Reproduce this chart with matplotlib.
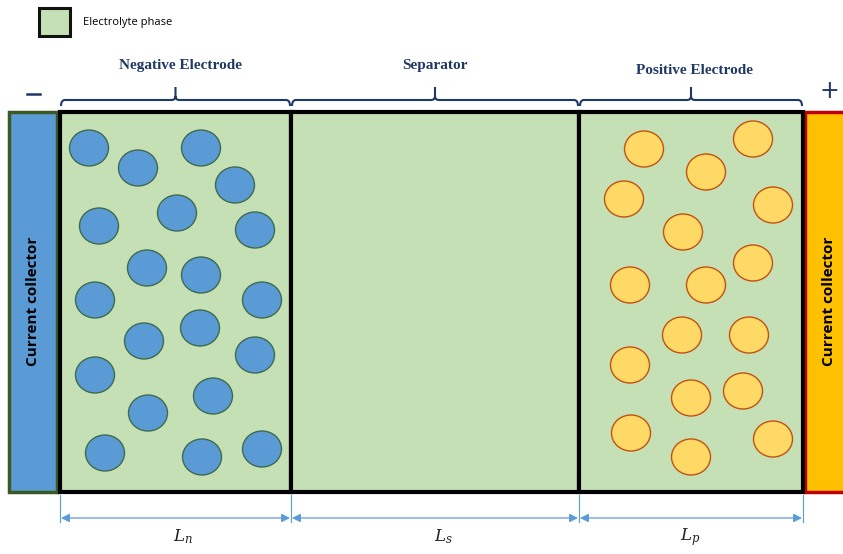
import matplotlib.pyplot as plt
from matplotlib.patches import Rectangle, Ellipse, FancyArrowPatch
from matplotlib.path import Path
from matplotlib.patches import PathPatch

plt.rcParams["mathtext.fontset"] = "dejavuserif"

# region boundaries (x) and labels
edges = [60, 291, 579, 803]
region_names = ["Negative Electrode", "Separator", "Positive Electrode"]
length_labels = [r"$L_n$", r"$L_s$", r"$L_p$"]

# particle centres in the negative electrode
neg_x = [89, 138, 201, 235, 177, 99, 255, 147, 201, 95, 262, 144, 200, 255, 95, 148, 213, 105, 202, 262]
neg_y = [148, 168, 148, 185, 213, 226, 230, 268, 275, 300, 300, 341, 328, 355, 375, 413, 396, 453, 457, 449]

# particle centres in the positive electrode
pos_x = [644, 753, 706, 624, 773, 683, 753, 630, 706, 682, 749, 630, 691, 743, 631, 773, 691]
pos_y = [149, 139, 172, 199, 205, 232, 263, 285, 285, 335, 335, 365, 398, 391, 433, 439, 457]

W, H = 843, 554
fig = plt.figure(figsize=(W / 100, H / 100), dpi=100)
ax = fig.add_axes([0, 0, 1, 1])
ax.set_xlim(0, W)
ax.set_ylim(H, 0)
ax.axis("off")

green = "#C5E0B4"
navy = "#1F3864"
top, bot = 112, 492

# current collectors
ax.add_patch(Rectangle((9, top), 48, bot - top, facecolor="#5B9BD5", edgecolor="#3B5A23", lw=2.5))
ax.add_patch(Rectangle((805, top), 50, bot - top, facecolor="#FFC000", edgecolor="#C00000", lw=2.5))
for cx in (33, 829):
    ax.text(cx, 301, "Current collector", rotation=90, ha="center", va="center",
            fontsize=11, fontweight="bold", family="Open Sans")

# electrode / separator boxes
for i in range(3):
    ax.add_patch(Rectangle((edges[i], top), edges[i + 1] - edges[i], bot - top,
                           facecolor=green, edgecolor="black", lw=3, zorder=2))

# particles
for x, y in zip(neg_x, neg_y):
    ax.add_patch(Ellipse((x, y), 39, 36, facecolor="#5B9BD5", edgecolor="#3E6B4F", lw=1, zorder=3))
for x, y in zip(pos_x, pos_y):
    ax.add_patch(Ellipse((x, y), 39, 36, facecolor="#FFD966", edgecolor="#C5500F", lw=1, zorder=3))

# braces + region titles
title_dx = [5, 0, 4]
title_y = [66, 66, 71]
for i in range(3):
    a, b = edges[i] + 1, edges[i + 1] - 1
    m = (a + b) / 2
    verts = [(a, 106), (a, 100), (a + 4, 100),
             (m - 4, 100), (m, 100), (m, 96),
             (m, 87), (m, 96), (m, 100),
             (m + 4, 100), (b - 4, 100), (b, 100), (b, 106)]
    codes = [Path.MOVETO, Path.CURVE3, Path.CURVE3,
             Path.LINETO, Path.CURVE3, Path.CURVE3,
             Path.LINETO, Path.MOVETO, Path.CURVE3,
             Path.CURVE3, Path.LINETO, Path.CURVE3, Path.CURVE3]
    ax.add_patch(PathPatch(Path(verts, codes), facecolor="none", edgecolor=navy, lw=1.5))
    ax.text(m + title_dx[i], title_y[i], region_names[i], ha="center", va="center",
            fontsize=11, fontweight="bold", family="Liberation Serif", color=navy)

# polarity signs
ax.plot([27, 40], [94, 94], color=navy, lw=1.8)
ax.text(829, 91, "+", ha="center", va="center", fontsize=17, color=navy)

# legend
ax.add_patch(Rectangle((39, 8), 31, 28, facecolor=green, edgecolor="#111111", lw=2.2))
ax.text(83, 22, "Electrolyte phase", ha="left", va="center", fontsize=8, family="Open Sans")

# dimension lines
dim = "#5B9BD5"
label_dx = [7, 8, -1]
for x in edges:
    ax.plot([x, x], [495, 522], color=dim, lw=0.8)
for i in range(3):
    ax.add_patch(FancyArrowPatch((edges[i] + 1, 518), (edges[i + 1] - 1, 518),
                                 arrowstyle="<|-|>,head_length=5,head_width=2.5",
                                 color=dim, lw=0.9, shrinkA=0, shrinkB=0))
    ax.text((edges[i] + edges[i + 1]) / 2 + label_dx[i], 537, length_labels[i],
            ha="center", va="center", fontsize=12, color="#222222")

fig.savefig("out.png", dpi=100)
